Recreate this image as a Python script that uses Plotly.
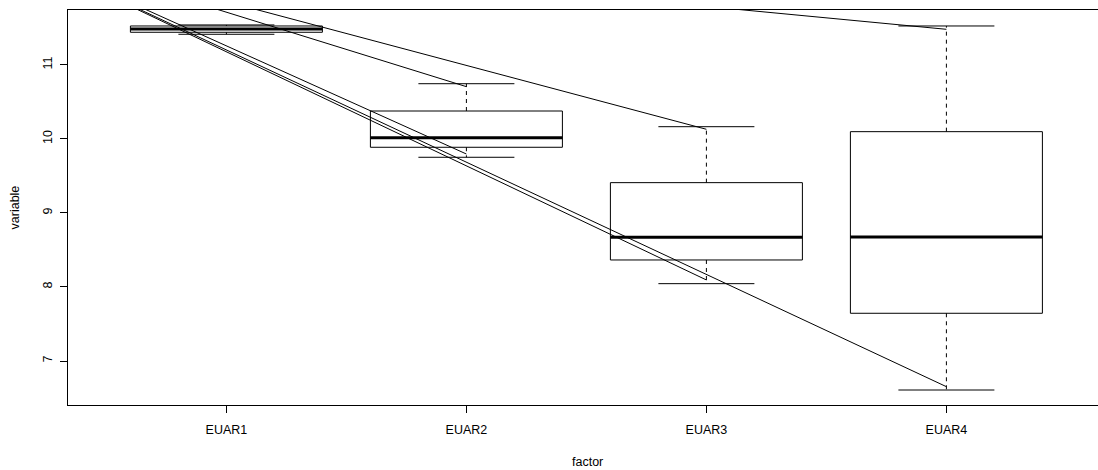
import plotly.graph_objects as go

categories = ["EUAR1", "EUAR2", "EUAR3", "EUAR4"]
lower_whisker = [11.415, 9.753, 8.045, 6.608]
q1 = [11.442, 9.888, 8.365, 7.645]
median = [11.486, 10.018, 8.671, 8.676]
q3 = [11.527, 10.378, 9.410, 10.099]
upper_whisker = [11.541, 10.747, 10.166, 11.527]

# overlay lines: all start at (0, line_origin) and end at group position
line_origin = 12.72
line_targets = [2, 3, 4]
line_end_lower = [9.797, 8.095, 6.653]
line_end_upper = [10.707, 10.131, 11.482]

y_ticks = [7, 8, 9, 10, 11]

BOX_HALF = 0.4
CAP_HALF = 0.2
BLACK = "#000000"

fig = go.Figure()

for i, cat in enumerate(categories):
    x = i + 1
    # box
    fig.add_trace(go.Scatter(
        x=[x - BOX_HALF, x + BOX_HALF, x + BOX_HALF, x - BOX_HALF, x - BOX_HALF],
        y=[q1[i], q1[i], q3[i], q3[i], q1[i]],
        mode="lines", line=dict(color=BLACK, width=1), hoverinfo="skip"))
    # median
    fig.add_trace(go.Scatter(
        x=[x - BOX_HALF, x + BOX_HALF], y=[median[i], median[i]],
        mode="lines", line=dict(color=BLACK, width=3), hoverinfo="skip"))
    # whiskers (dashed)
    fig.add_trace(go.Scatter(
        x=[x, x, None, x, x], y=[q3[i], upper_whisker[i], None, q1[i], lower_whisker[i]],
        mode="lines", line=dict(color=BLACK, width=1, dash="4px,4px"), hoverinfo="skip"))
    # caps
    fig.add_trace(go.Scatter(
        x=[x - CAP_HALF, x + CAP_HALF, None, x - CAP_HALF, x + CAP_HALF],
        y=[upper_whisker[i], upper_whisker[i], None, lower_whisker[i], lower_whisker[i]],
        mode="lines", line=dict(color=BLACK, width=1), hoverinfo="skip"))

for t, lo, hi in zip(line_targets, line_end_lower, line_end_upper):
    fig.add_trace(go.Scatter(
        x=[0, t, None, 0, t], y=[line_origin, lo, None, line_origin, hi],
        mode="lines", line=dict(color=BLACK, width=1), hoverinfo="skip"))

FONT = "Liberation Sans, Arial, Helvetica, sans-serif"

fig.update_layout(
    width=1098, height=470,
    margin=dict(l=68, r=0, t=10, b=65),
    paper_bgcolor="white", plot_bgcolor="white",
    showlegend=False,
    font=dict(family=FONT, size=12.5, color="black"),
    xaxis=dict(
        range=[0.34, 0.34 + 1030 / 240], tickmode="array",
        tickvals=[1, 2, 3, 4], ticktext=categories,
        ticks="outside", ticklen=7, tickwidth=1, tickcolor=BLACK,
        showline=True, linecolor=BLACK, linewidth=1, mirror=True,
        showgrid=False, zeroline=False, ticklabelstandoff=6,
    ),
    yaxis=dict(
        range=[6.4054, 11.743], tickmode="array", tickvals=y_ticks,
        ticktext=[str(v) for v in y_ticks],
        ticks="outside", ticklen=7, tickwidth=1, tickcolor=BLACK,
        showline=True, linecolor=BLACK, linewidth=1, mirror=False,
        showgrid=False, zeroline=False, tickangle=-90, ticklabelstandoff=3,
    ),
    annotations=[
        dict(text="factor", xref="paper", yref="paper", x=0.504, y=-0.144,
             xanchor="center", yanchor="middle", showarrow=False,
             font=dict(family=FONT, size=12.5, color="black")),
        dict(text="variable", xref="paper", yref="paper", x=-0.0515, y=0.5,
             xanchor="center", yanchor="middle", showarrow=False, textangle=-90,
             font=dict(family=FONT, size=12.5, color="black")),
    ],
)

fig.write_html("out.html")
